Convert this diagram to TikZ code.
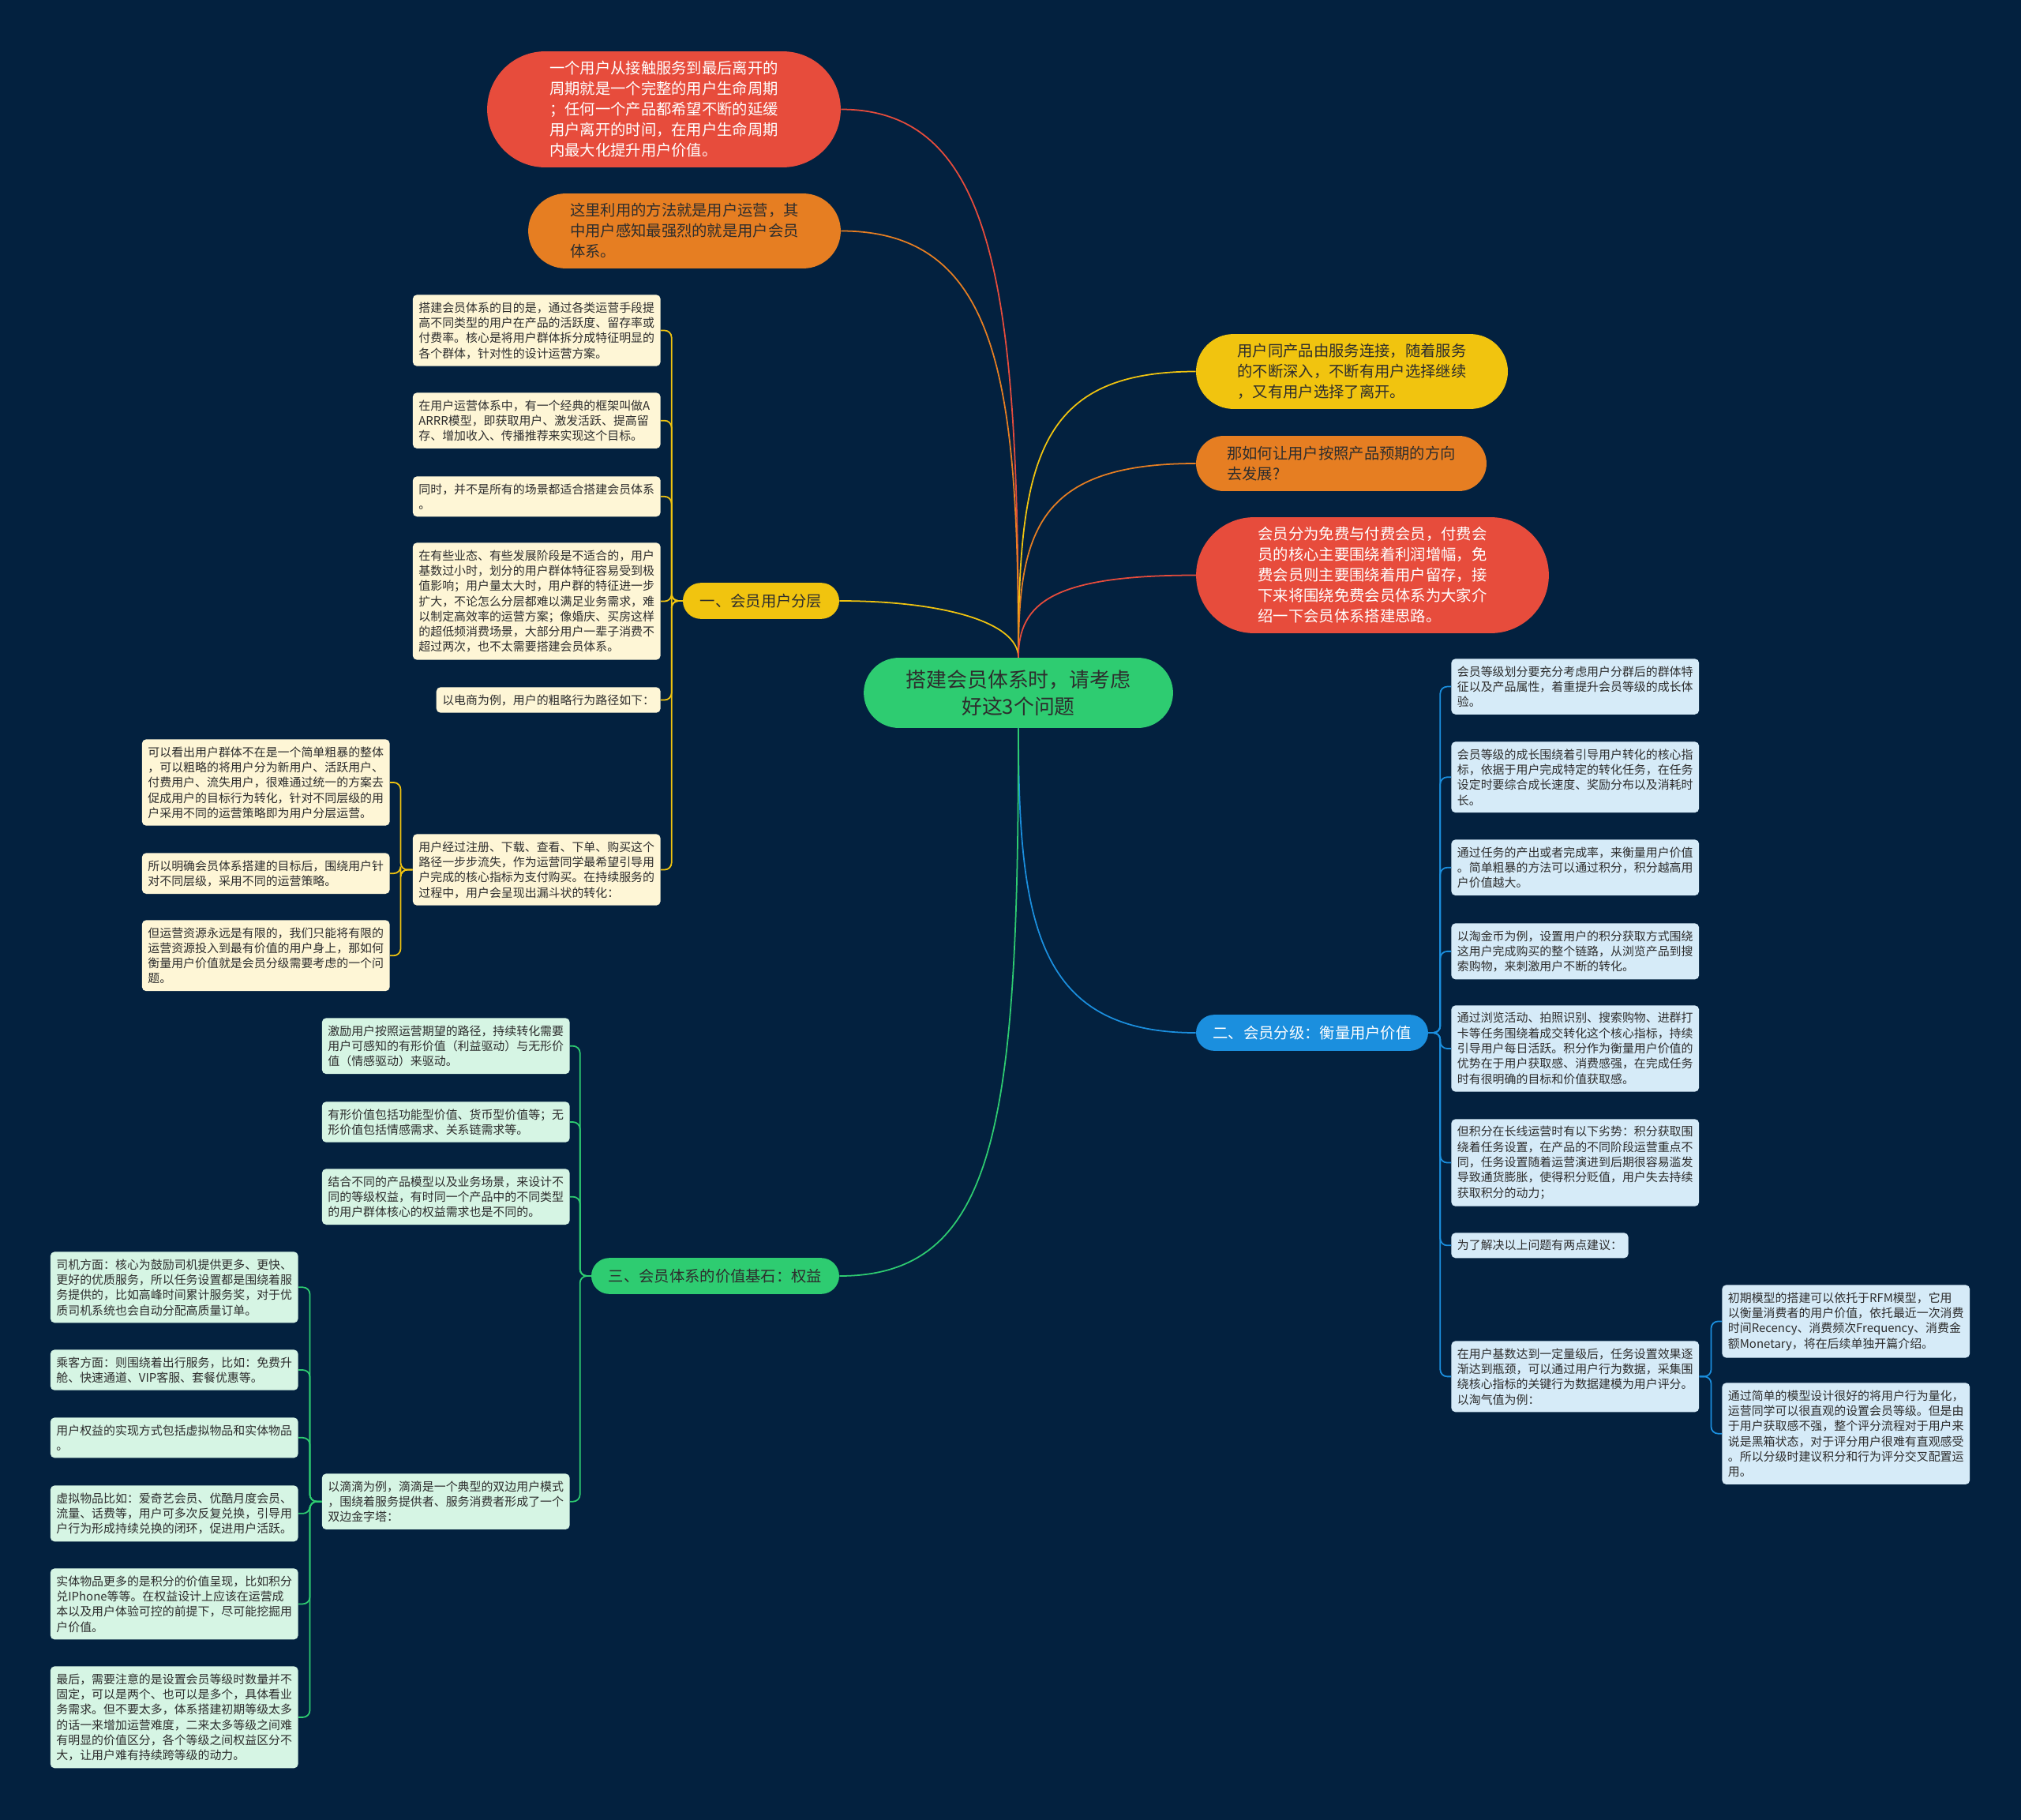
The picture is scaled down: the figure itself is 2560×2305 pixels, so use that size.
\documentclass[tikz,border=0pt]{standalone}
\usepackage{fontspec}
\setmainfont{Noto Sans CJK SC}
\usepackage{xcolor}
\usepackage{tikz}
\usetikzlibrary{shapes.misc,calc}

\definecolor{sfondo}{RGB}{3,33,63}
\definecolor{rosso}{RGB}{231,76,60}
\definecolor{arancio}{RGB}{230,126,34}
\definecolor{giallo}{RGB}{241,196,15}
\definecolor{verde}{RGB}{46,204,113}
\definecolor{blu}{RGB}{27,143,222}
\definecolor{crema}{RGB}{254,246,214}
\definecolor{menta}{RGB}{214,245,228}
\definecolor{celeste}{RGB}{214,235,248}
\definecolor{scuro}{RGB}{45,45,45}

\begin{document}
\begin{tikzpicture}[x=0.02cm,y=-0.02cm,
  bolla/.style={rounded rectangle,align=left,inner sep=0pt,font=\fontsize{11pt}{14.8pt}\selectfont},
  ramo/.style={rounded rectangle,align=center,inner sep=0pt,minimum height=26pt,font=\fontsize{11pt}{14.8pt}\selectfont},
  foglia/.style={rounded corners=3pt,align=left,text width=170pt,inner xsep=4.3pt,inner ysep=5.15pt,text=scuro,font=\fontsize{8.5pt}{11pt}\selectfont},
  curva/.style={line width=1pt}]
  \useasboundingbox (0,0) rectangle (2560,2305);
  \fill[sfondo] (0,0) rectangle (2560,2305);
  % nodo centrale
  \node[rounded rectangle,fill=verde,text=scuro,align=center,inner sep=0pt,minimum width=223pt,minimum height=50.6pt,font=\fontsize{14.7pt}{19pt}\selectfont] (radice) at (1290,877.5) {搭建会员体系时，请考虑\\好这3个问题};
  % domande in alto
  \node[bolla,fill=rosso,text=white,minimum width=254.9pt,minimum height=83.6pt] (q1) at (841,138.5) {一个用户从接触服务到最后离开的\\周期就是一个完整的用户生命周期\\；任何一个产品都希望不断的延缓\\用户离开的时间，在用户生命周期\\内最大化提升用户价值。};
  \node[bolla,fill=arancio,text=scuro,minimum width=225.3pt,minimum height=54pt] (q2) at (867,292.5) {这里利用的方法就是用户运营，其\\中用户感知最强烈的就是用户会员\\体系。};
  \node[bolla,fill=giallo,text=scuro,minimum width=224.8pt,minimum height=54pt] (q3) at (1712.5,470.5) {用户同产品由服务连接，随着服务\\的不断深入，不断有用户选择继续\\，又有用户选择了离开。};
  \node[bolla,fill=arancio,text=scuro,minimum width=209.4pt,minimum height=39.8pt] (q4) at (1699,587) {那如何让用户按照产品预期的方向\\去发展?};
  \node[bolla,fill=rosso,text=white,minimum width=254.3pt,minimum height=83.6pt] (q5) at (1738.5,728.5) {会员分为免费与付费会员，付费会\\员的核心主要围绕着利润增幅，免\\费会员则主要围绕着用户留存，接\\下来将围绕免费会员体系为大家介\\绍一下会员体系搭建思路。};
  % rami
  \node[ramo,fill=giallo,text=scuro,minimum width=112.7pt] (r1) at (964,761) {一、会员用户分层};
  \node[ramo,fill=blu,text=white,minimum width=167.3pt] (r2) at (1662,1308) {二、会员分级：衡量用户价值};
  \node[ramo,fill=verde,text=scuro,minimum width=178.7pt] (r3) at (906,1616) {三、会员体系的价值基石：权益};
  % ramo 1
  \node[foglia,fill=crema,anchor=north east] (f1) at (837,373) {搭建会员体系的目的是，通过各类运营手段提\\高不同类型的用户在产品的活跃度、留存率或\\付费率。核心是将用户群体拆分成特征明显的\\各个群体，针对性的设计运营方案。};
  \node[foglia,fill=crema,anchor=north east] (f2) at (837,497) {在用户运营体系中，有一个经典的框架叫做A\\ARRR模型，即获取用户、激发活跃、提高留\\存、增加收入、传播推荐来实现这个目标。};
  \node[foglia,fill=crema,anchor=north east] (f3) at (837,603) {同时，并不是所有的场景都适合搭建会员体系\\。};
  \node[foglia,fill=crema,anchor=north east] (f4) at (837,687) {在有些业态、有些发展阶段是不适合的，用户\\基数过小时，划分的用户群体特征容易受到极\\值影响；用户量太大时，用户群的特征进一步\\扩大，不论怎么分层都难以满足业务需求，难\\以制定高效率的运营方案；像婚庆、买房这样\\的超低频消费场景，大部分用户一辈子消费不\\超过两次，也不太需要搭建会员体系。};
  \node[foglia,fill=crema,anchor=north east,text width=153pt] (f5) at (837,870) {以电商为例，用户的粗略行为路径如下：};
  \node[foglia,fill=crema,anchor=north east] (f6) at (837,1056) {用户经过注册、下载、查看、下单、购买这个\\路径一步步流失，作为运营同学最希望引导用\\户完成的核心指标为支付购买。在持续服务的\\过程中，用户会呈现出漏斗状的转化：};
  \node[foglia,fill=crema,anchor=north east] (f7) at (494,936) {可以看出用户群体不在是一个简单粗暴的整体\\，可以粗略的将用户分为新用户、活跃用户、\\付费用户、流失用户，很难通过统一的方案去\\促成用户的目标行为转化，针对不同层级的用\\户采用不同的运营策略即为用户分层运营。};
  \node[foglia,fill=crema,anchor=north east] (f8) at (494,1080) {所以明确会员体系搭建的目标后，围绕用户针\\对不同层级，采用不同的运营策略。};
  \node[foglia,fill=crema,anchor=north east] (f9) at (494,1165) {但运营资源永远是有限的，我们只能将有限的\\运营资源投入到最有价值的用户身上，那如何\\衡量用户价值就是会员分级需要考虑的一个问\\题。};
  % ramo 3
  \node[foglia,fill=menta,anchor=north east] (g1) at (722,1289) {激励用户按照运营期望的路径，持续转化需要\\用户可感知的有形价值（利益驱动）与无形价\\值（情感驱动）来驱动。};
  \node[foglia,fill=menta,anchor=north east] (g2) at (722,1395) {有形价值包括功能型价值、货币型价值等；无\\形价值包括情感需求、关系链需求等。};
  \node[foglia,fill=menta,anchor=north east] (g3) at (722,1480) {结合不同的产品模型以及业务场景，来设计不\\同的等级权益，有时同一个产品中的不同类型\\的用户群体核心的权益需求也是不同的。};
  \node[foglia,fill=menta,anchor=north east] (g4) at (722,1866) {以滴滴为例，滴滴是一个典型的双边用户模式\\，围绕着服务提供者、服务消费者形成了一个\\双边金字塔：};
  \node[foglia,fill=menta,anchor=north east] (g5) at (378,1585) {司机方面：核心为鼓励司机提供更多、更快、\\更好的优质服务，所以任务设置都是围绕着服\\务提供的，比如高峰时间累计服务奖，对于优\\质司机系统也会自动分配高质量订单。};
  \node[foglia,fill=menta,anchor=north east] (g6) at (378,1709) {乘客方面：则围绕着出行服务，比如：免费升\\舱、快速通道、VIP客服、套餐优惠等。};
  \node[foglia,fill=menta,anchor=north east] (g7) at (378,1795) {用户权益的实现方式包括虚拟物品和实体物品\\。};
  \node[foglia,fill=menta,anchor=north east] (g8) at (378,1881) {虚拟物品比如：爱奇艺会员、优酷月度会员、\\流量、话费等，用户可多次反复兑换，引导用\\户行为形成持续兑换的闭环，促进用户活跃。};
  \node[foglia,fill=menta,anchor=north east] (g9) at (378,1986) {实体物品更多的是积分的价值呈现，比如积分\\兑IPhone等等。在权益设计上应该在运营成\\本以及用户体验可控的前提下，尽可能挖掘用\\户价值。};
  \node[foglia,fill=menta,anchor=north east] (g10) at (378,2110) {最后，需要注意的是设置会员等级时数量并不\\固定，可以是两个、也可以是多个，具体看业\\务需求。但不要太多，体系搭建初期等级太多\\的话一来增加运营难度，二来太多等级之间难\\有明显的价值区分，各个等级之间权益区分不\\大，让用户难有持续跨等级的动力。};
  % ramo 2
  \node[foglia,fill=celeste,anchor=north west] (h1) at (1838,834) {会员等级划分要充分考虑用户分群后的群体特\\征以及产品属性，着重提升会员等级的成长体\\验。};
  \node[foglia,fill=celeste,anchor=north west] (h2) at (1838,939) {会员等级的成长围绕着引导用户转化的核心指\\标，依据于用户完成特定的转化任务，在任务\\设定时要综合成长速度、奖励分布以及消耗时\\长。};
  \node[foglia,fill=celeste,anchor=north west] (h3) at (1838,1063) {通过任务的产出或者完成率，来衡量用户价值\\。简单粗暴的方法可以通过积分，积分越高用\\户价值越大。};
  \node[foglia,fill=celeste,anchor=north west] (h4) at (1838,1169) {以淘金币为例，设置用户的积分获取方式围绕\\这用户完成购买的整个链路，从浏览产品到搜\\索购物，来刺激用户不断的转化。};
  \node[foglia,fill=celeste,anchor=north west] (h5) at (1838,1273) {通过浏览活动、拍照识别、搜索购物、进群打\\卡等任务围绕着成交转化这个核心指标，持续\\引导用户每日活跃。积分作为衡量用户价值的\\优势在于用户获取感、消费感强，在完成任务\\时有很明确的目标和价值获取感。};
  \node[foglia,fill=celeste,anchor=north west] (h6) at (1838,1417) {但积分在长线运营时有以下劣势：积分获取围\\绕着任务设置，在产品的不同阶段运营重点不\\同，任务设置随着运营演进到后期很容易滥发\\导致通货膨胀，使得积分贬值，用户失去持续\\获取积分的动力；};
  \node[foglia,fill=celeste,anchor=north west,text width=119pt] (h7) at (1838,1561) {为了解决以上问题有两点建议：};
  \node[foglia,fill=celeste,anchor=north west] (h8) at (1838,1698) {在用户基数达到一定量级后，任务设置效果逐\\渐达到瓶颈，可以通过用户行为数据，采集围\\绕核心指标的关键行为数据建模为用户评分。\\以淘气值为例：};
  \node[foglia,fill=celeste,anchor=north west] (h9) at (2181,1627) {初期模型的搭建可以依托于RFM模型，它用\\以衡量消费者的用户价值，依托最近一次消费\\时间Recency、消费频次Frequency、消费金\\额Monetary，将在后续单独开篇介绍。};
  \node[foglia,fill=celeste,anchor=north west] (h10) at (2181,1751) {通过简单的模型设计很好的将用户行为量化，\\运营同学可以很直观的设置会员等级。但是由\\于用户获取感不强，整个评分流程对于用户来\\说是黑箱状态，对于评分用户很难有直观感受\\。所以分级时建议积分和行为评分交叉配置运\\用。};
  % collegamenti dal centro
  \draw[curva,rosso] (radice.north) .. controls +(0,-450) and +(200,0) .. (q1.east);
  \draw[curva,arancio] (radice.north) .. controls +(0,-350) and +(200,0) .. (q2.east);
  \draw[curva,giallo] (radice.north) .. controls +(0,-45) and +(130,0) .. (r1.east);
  \draw[curva,giallo] (radice.north) .. controls +(0,-250) and +(-200,0) .. (q3.west);
  \draw[curva,arancio] (radice.north) .. controls +(0,-160) and +(-200,0) .. (q4.west);
  \draw[curva,rosso] (radice.north) .. controls +(0,-70) and +(-180,0) .. (q5.west);
  \draw[curva,blu] (radice.south) .. controls +(0,250) and +(-200,0) .. (r2.west);
  \draw[curva,verde] (radice.south) .. controls +(0,500) and +(200,0) .. (r3.east);
  % parentesi
  \foreach \nodo in {f1,f2,f3,f4,f5,f6}
    \draw[curva,giallo,rounded corners=5pt] (r1.west) -- ++(-14,0) |- (\nodo.east);
  \foreach \nodo in {f7,f8,f9}
    \draw[curva,giallo,rounded corners=5pt] (f6.west) -- ++(-15,0) |- (\nodo.east);
  \foreach \nodo in {g1,g2,g3,g4}
    \draw[curva,verde,rounded corners=5pt] (r3.west) -- ++(-14,0) |- (\nodo.east);
  \foreach \nodo in {g5,g6,g7,g8,g9,g10}
    \draw[curva,verde,rounded corners=5pt] (g4.west) -- ++(-15,0) |- (\nodo.east);
  \foreach \nodo in {h1,h2,h3,h4,h5,h6,h7,h8}
    \draw[curva,blu,rounded corners=5pt] (r2.east) -- ++(15,0) |- (\nodo.west);
  \foreach \nodo in {h9,h10}
    \draw[curva,blu,rounded corners=5pt] (h8.east) -- ++(15,0) |- (\nodo.west);
\end{tikzpicture}
\end{document}
